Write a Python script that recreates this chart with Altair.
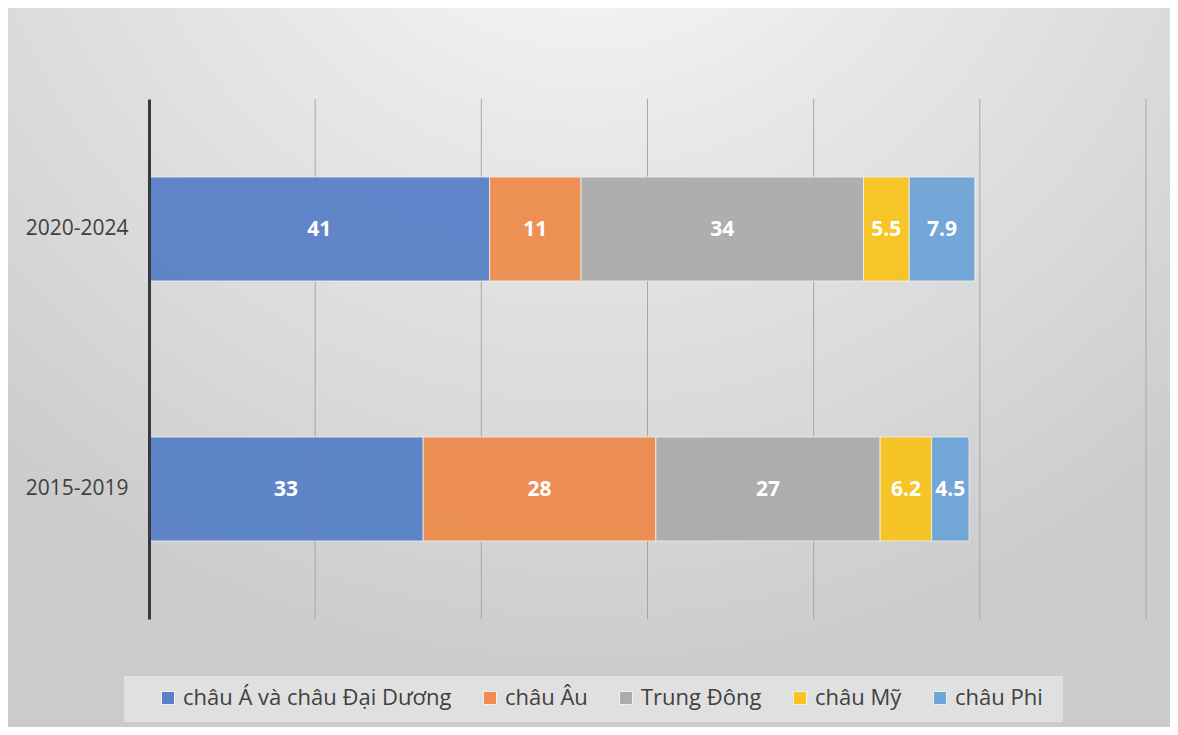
import altair as alt
import pandas as pd

periods = ["2020-2024", "2015-2019"]
regions = ["châu Á và châu Đại Dương", "châu Âu", "Trung Đông", "châu Mỹ", "châu Phi"]
values_2020_2024 = [41, 11, 34, 5.5, 7.9]
values_2015_2019 = [33, 28, 27, 6.2, 4.5]
labels_2020_2024 = ["41", "11", "34", "5.5", "7.9"]
labels_2015_2019 = ["33", "28", "27", "6.2", "4.5"]
colors = ["#5b82c9", "#ee8d4f", "#acacac", "#f9c421", "#6fa5d8"]
grid_ticks = [20, 40, 60, 80, 100, 120]

rows = []
for p, vals, labs in [("2020-2024", values_2020_2024, labels_2020_2024),
                      ("2015-2019", values_2015_2019, labels_2015_2019)]:
    for i, (r, v, l) in enumerate(zip(regions, vals, labs)):
        rows.append({"period": p, "region": r, "value": v, "label": l, "ord": i})
df = pd.DataFrame(rows)

W, H = 997, 520
PL, PT, PR, PB = 141, 91, 24, 108
FONT = "Open Sans"

bg_fill = {
    "gradient": "radial",
    "x1": 0.5, "y1": 0.0, "r1": 0.0,
    "x2": 0.5, "y2": 0.0, "r2": 0.78,
    "stops": [
        {"offset": 0.0, "color": "#ffffff"},
        {"offset": 0.4, "color": "#e8e8e8"},
        {"offset": 0.75, "color": "#d8d8d8"},
        {"offset": 1.0, "color": "#cbcbcb"},
    ],
}

xscale = alt.Scale(domain=[0, 120], nice=False)

bg = alt.Chart(pd.DataFrame({"a": [0]})).mark_rect(fill=bg_fill).encode(
    x=alt.value(-PL), x2=alt.value(W + PR),
    y=alt.value(-PT), y2=alt.value(H + PB),
)

legend_box = alt.Chart(pd.DataFrame({"a": [0]})).mark_rect(fill="#e0e0e0").encode(
    x=alt.value(-25), x2=alt.value(914),
    y=alt.value(577), y2=alt.value(623),
)

grid = alt.Chart(pd.DataFrame({"t": grid_ticks})).mark_rule(
    color="#a6a6a6", strokeWidth=1
).encode(
    x=alt.X("t:Q", scale=xscale, axis=None),
    y=alt.value(0), y2=alt.value(H),
)

base = alt.Chart(df).transform_stack(
    stack="value", groupby=["period"], as_=["x0", "x1"],
    sort=[alt.SortField("ord", order="ascending")],
).transform_calculate(mid="(datum.x0 + datum.x1) / 2")

yenc = alt.Y("period:N", sort=periods, title=None,
             scale=alt.Scale(paddingInner=0.6, paddingOuter=0.3),
             axis=alt.Axis(ticks=False, labelFontSize=21, labelColor="#404040",
                           labelFont=FONT, labelPadding=21, domainColor="#3a3a3a",
                           domainWidth=3, grid=False, zindex=2))

bars = base.mark_bar(stroke="#f2f2f2", strokeWidth=1, strokeOpacity=0.8, opacity=0.96).encode(
    x=alt.X("x0:Q", scale=xscale, axis=None, title=None),
    x2="x1:Q",
    y=yenc,
    color=alt.Color("region:N", sort=regions,
                    scale=alt.Scale(domain=regions, range=colors),
                    legend=alt.Legend(
                        title=None, orient="none", direction="horizontal",
                        legendX=8, legendY=588,
                        labelFont=FONT, labelFontSize=22, labelColor="#404040",
                        labelLimit=600,
                        symbolType="square",
                        symbolSize=170, symbolStrokeWidth=1, symbolStrokeColor="#f0f0f0",
                        symbolOpacity=1,
                        columnPadding=27, labelOffset=4, padding=0,
                    )),
)

texts = base.mark_text(color="white", fontWeight="bold", fontSize=21, font=FONT, dy=1).encode(
    x=alt.X("mid:Q", scale=xscale, axis=None),
    y=yenc,
    text="label:N",
)

chart = alt.layer(bg, legend_box, grid, bars, texts).properties(
    width=W, height=H,
    autosize=alt.AutoSizeParams(type="none"),
    padding={"left": PL, "top": PT, "right": PR, "bottom": PB},
    background="#ffffff",
).configure_view(stroke=None)

chart.save("out.html", embed_options={"renderer": "svg", "actions": False})
